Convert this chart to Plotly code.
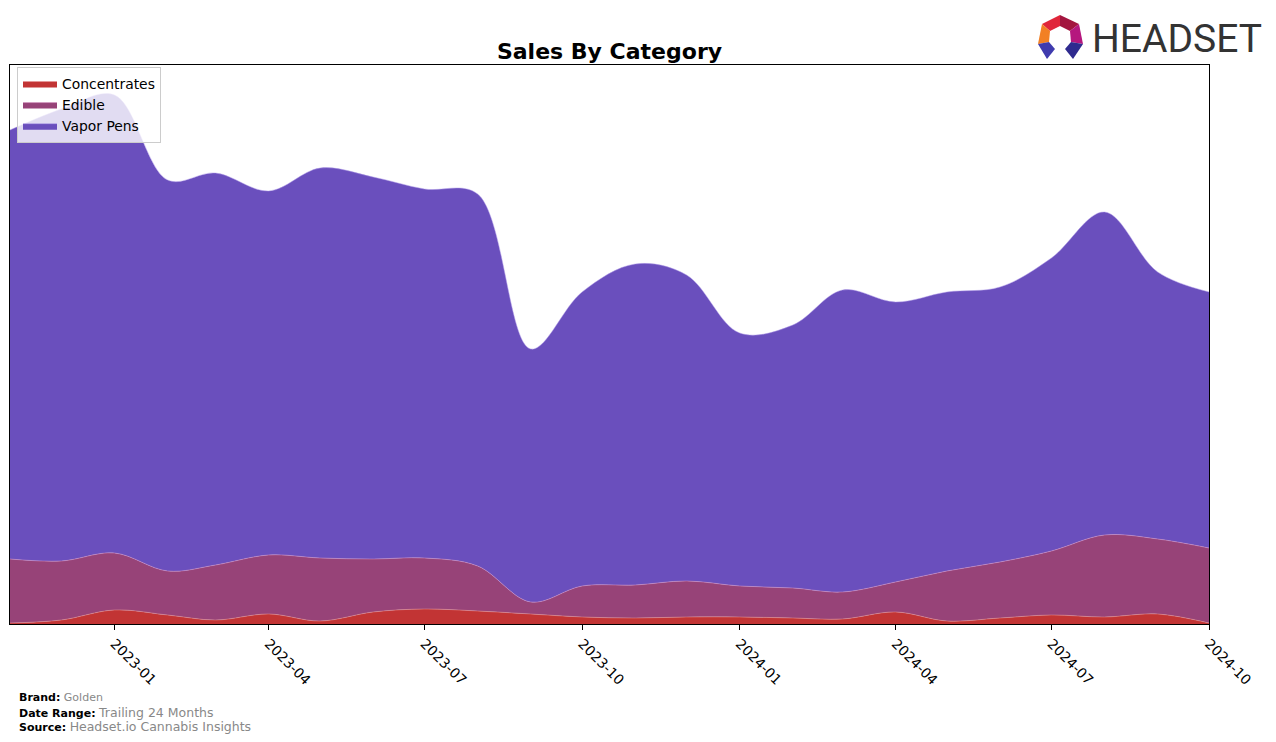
import plotly.graph_objects as go

months = ["2022-11-01", "2022-12-01", "2023-01-01", "2023-02-01", "2023-03-01", "2023-04-01",
          "2023-05-01", "2023-06-01", "2023-07-01", "2023-08-01", "2023-09-01", "2023-10-01",
          "2023-11-01", "2023-12-01", "2024-01-01", "2024-02-01", "2024-03-01", "2024-04-01",
          "2024-05-01", "2024-06-01", "2024-07-01", "2024-08-01", "2024-09-01", "2024-10-01"]

concentrates = [1, 4, 14, 9, 4, 10, 3, 12, 15, 13, 10, 7, 6, 7, 7, 6, 5, 12, 3, 6, 9, 7, 10, 1]
edible = [64, 59, 57, 44, 55, 59, 63, 53, 51, 45, 12, 31, 33, 36, 31, 30, 27, 30, 50, 56, 64, 82, 75, 75]
vapor_pens = [429, 452, 458, 391, 392, 364, 390, 382, 369, 372, 253, 294, 321, 306, 253, 263, 302,
              280, 279, 275, 293, 323, 267, 256]

series = [
    ("Concentrates", concentrates, "#C23434", "rgba(235,150,150,0.7)"),
    ("Edible", edible, "#974378", "rgba(220,150,200,0.7)"),
    ("Vapor Pens", vapor_pens, "#6A4FBD", "rgba(180,160,235,0.7)"),
]

W, H = 1276, 742
L, R, T, B = 10, 1209, 65, 624


def px(xp):
    return (xp - L) / (R - L)


def py(yp):
    return (B - yp) / (B - T)


fig = go.Figure()
for name, vals, col, lc in series:
    fig.add_trace(go.Scatter(
        x=months, y=vals, name=name, mode="lines", stackgroup="one",
        line=dict(shape="spline", smoothing=1.0, width=0.7, color=lc),
        fillcolor=col,
    ))

fig.update_layout(
    width=W, height=H,
    margin=dict(l=L, r=W - R, t=T, b=H - B),
    paper_bgcolor="white", plot_bgcolor="white",
    font=dict(family="DejaVu Sans", size=13.9, color="black"),
    title=dict(text="<b>Sales By Category</b>", font=dict(size=22, family="DejaVu Sans", color="black"),
               x=0.5, xref="paper", xanchor="center", y=1 - 51 / H, yref="container", yanchor="middle"),
    showlegend=True,
    legend=dict(x=px(17), y=py(67), xanchor="left", yanchor="top", itemwidth=34,
                bgcolor="rgba(255,255,255,0.8)", bordercolor="#cccccc", borderwidth=1,
                font=dict(size=13.9, family="DejaVu Sans", color="black"), traceorder="normal"),
    xaxis=dict(type="date", range=["2022-11-01", "2024-10-01"], tickformat="%Y-%m",
               dtick="M3", tick0="2023-01-01", ticks="outside", ticklen=5, tickcolor="black",
               tickangle=45, showgrid=False, showline=True, linecolor="black", linewidth=1,
               mirror=True, zeroline=False, tickfont=dict(size=13.9, color="black")),
    yaxis=dict(range=[0, B - T], showticklabels=False, ticks="", showgrid=False,
               showline=True, linecolor="black", linewidth=1, mirror=True, zeroline=False),
)

# footer texts
footer = [
    (697, "<b>Brand:</b> <span style='font-size:11px;color:#888888'>Golden</span>"),
    (712, "<b>Date Range:</b> <span style='font-size:12.5px;color:#888888'>Trailing 24 Months</span>"),
    (726, "<b>Source:</b> <span style='font-size:12.5px;color:#888888'>Headset.io Cannabis Insights</span>"),
]
for yp, txt in footer:
    fig.add_annotation(text=txt, x=px(17), y=py(yp), xref="paper", yref="paper",
                       xanchor="left", yanchor="middle", showarrow=False,
                       font=dict(size=11, family="DejaVu Sans", color="black"))

# logo text
fig.add_annotation(text="HEADSET", x=px(1090), y=py(39), xref="paper", yref="paper",
                   xanchor="left", yanchor="middle", showarrow=False,
                   font=dict(size=39, family="Roboto", color="#333333"))


def poly(points, color):
    d = "M " + " L ".join(f"{px(a):.5f},{py(b):.5f}" for a, b in points) + " Z"
    fig.add_shape(type="path", path=d, xref="paper", yref="paper",
                  fillcolor=color, line=dict(width=0), layer="above")


# logo icon
poly([(1042, 24), (1060, 15), (1060, 26), (1050, 31)], "#E0263A")
poly([(1060, 15), (1079, 24), (1070, 31), (1060, 26)], "#A3153F")
poly([(1042, 24), (1050, 31), (1049, 42), (1038, 44)], "#F28024")
poly([(1079, 24), (1070, 31), (1071, 42), (1083, 44)], "#B5177E")
poly([(1038, 44), (1049, 42), (1055, 49), (1047, 59)], "#3F3BAE")
poly([(1083, 44), (1071, 42), (1065, 49), (1073, 59)], "#2F2B8F")

fig.write_html("out.html")
